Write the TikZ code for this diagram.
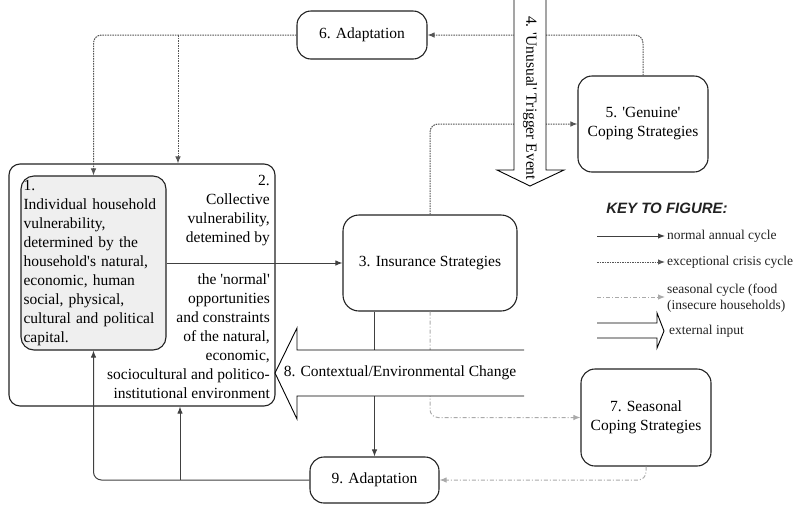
\documentclass[tikz,border=0pt]{standalone}
\usepackage{fontspec}
\setmainfont{Liberation Serif}
\setsansfont{Liberation Sans}
\usetikzlibrary{arrows.meta,calc}
\newcommand\q{\textquotesingle}
\definecolor{solidc}{HTML}{404040}
\definecolor{dotc}{HTML}{555555}
\definecolor{seasc}{HTML}{AAAAAA}
\definecolor{boxc}{HTML}{222222}
\definecolor{fillone}{HTML}{EFEFEF}
\tikzset{
  txt/.style={font=\fontsize{15.5}{19}\selectfont, inner sep=0pt},
  keytxt/.style={font=\fontsize{13.5}{16.5}\selectfont, inner sep=0pt, anchor=west, text=boxc},
  rbox/.style={draw=boxc, line width=1.1pt, rounded corners=14pt, inner sep=0pt, align=center,
               font=\fontsize{15.5}{19}\selectfont},
  normal/.style={draw=solidc, line width=1pt, rounded corners=8pt, -{Latex[length=7pt,width=5.5pt]}},
  crisis/.style={draw=dotc, line width=1pt, dash pattern=on 1.6pt off 0.9pt, rounded corners=8pt, -{Latex[length=7pt,width=5.5pt]}},
  seasonal/.style={draw=seasc, line width=1pt, dash pattern=on 4pt off 2pt on 1pt off 2pt, rounded corners=8pt, -{Latex[length=7pt,width=5.5pt]}},
  fat/.style={draw=black, line width=0.9pt, line join=miter},
}
\begin{document}
\begin{tikzpicture}[x=1pt,y=-1pt]
\useasboundingbox (0,0) rectangle (797,504);

% boxes
\node[rbox, rounded corners=11pt, minimum width=266pt, minimum height=242pt] (box2) at (142,285) {};
\node[rbox, fill=fillone, rounded corners=13pt, text width=140pt, minimum height=174pt, inner sep=2.5pt, align=left] (box1) at (93.5,263)
  {1.\\Individual household\\vulnerability,\\determined by the\\household\q s natural,\\economic, human\\social, physical,\\cultural and political\\capital.};
\node[txt, anchor=east, align=right] (t2a) at (270,211) {2.\\Collective\\vulnerability,\\detemined by};
\node[txt, anchor=east, align=right] (t2b) at (270,336) {the \q normal\q\\opportunities\\and constraints\\of the natural,\\economic,\\sociocultural and politico-\\institutional environment};

\node[rbox, rounded corners=16pt, minimum width=174pt, minimum height=96pt] (box3) at (430,263) {3. Insurance Strategies};
\node[rbox, minimum width=130pt, minimum height=48pt] (box6) at (362,35) {6. Adaptation};
\node[rbox, minimum width=130pt, minimum height=96pt] (box5) at (643,124) {5. \q Genuine\q\\Coping Strategies};
\node[rbox, minimum width=130pt, minimum height=97pt] (box7) at (646,417.5) {7. Seasonal\\Coping Strategies};
\node[rbox, minimum width=129pt, minimum height=46pt] (box9) at (374.5,480) {9. Adaptation};

% junction coordinates
\coordinate (j6) at (178,35);
\coordinate (j9) at (180,480);

% connectors
\draw[crisis] (box6.west) -| (box1.north);
\draw[crisis, rounded corners=0pt] (j6) -- (j6 |- box2.north);
\draw[crisis] (box5.north) |- (box6.east);
\draw[crisis] (box3.north) |- (box5.west);
\draw[normal] (box1.east) -- (box3.west);
\draw[normal] (box3.south -| box9.north) -- (box9.north);
\draw[seasonal] (box3.south) |- (box7.west);
\draw[seasonal] (box7.south) |- (box9.east);
\draw[normal] (box9.west) -| (box1.south);
\draw[normal, rounded corners=0pt] (j9) -- (j9 |- box2.south);

% fat arrow 4 (trigger)
\fill[white] (514,-2) -- (514,170) -- (497,170) -- (530,186) -- (564,170) -- (546,170) -- (546,-2) -- cycle;
\draw[fat] (514,-2) -- (514,170) -- (497,170) -- (530,186) -- (564,170) -- (546,170) -- (546,-2);
\node[txt, rotate=-90] (t4) at (530,98) {4. \q Unusual\q\ Trigger Event};

% fat arrow 8 (contextual change)
\fill[white] (524,350) -- (297,350) -- (297,328) -- (275,373) -- (297,419) -- (297,396) -- (524,396) -- cycle;
\draw[fat] (524,350) -- (297,350) -- (297,328) -- (275,373) -- (297,419) -- (297,396) -- (524,396);
\node[txt] (t8) at (400,373) {8. Contextual/Environmental Change};

% key
\node[font=\sffamily\bfseries\itshape\fontsize{15}{18}\selectfont, inner sep=0pt, text=boxc] (keyt) at (667,208) {KEY TO FIGURE:};
\coordinate (k1a) at (597,236); \coordinate (k1b) at (665,236);
\coordinate (k2a) at (597,262); \coordinate (k2b) at (665,262);
\coordinate (k3a) at (597,297); \coordinate (k3b) at (665,297);
\draw[normal] (k1a) -- (k1b);
\draw[crisis] (k2a) -- (k2b);
\draw[seasonal] (k3a) -- (k3b);
\draw[fat] (597,323) -- (657,323) -- (657,313) -- (664,331) -- (657,348) -- (657,338) -- (597,338);
\node[keytxt] (kl1) at (667,236) {normal annual cycle};
\node[keytxt] (kl2) at (667,262) {exceptional crisis cycle};
\node[keytxt, align=left] (kl3) at (667,298) {seasonal cycle (food\\(insecure households)};
\node[keytxt] (kl4) at (669,331) {external input};
\end{tikzpicture}
\end{document}
